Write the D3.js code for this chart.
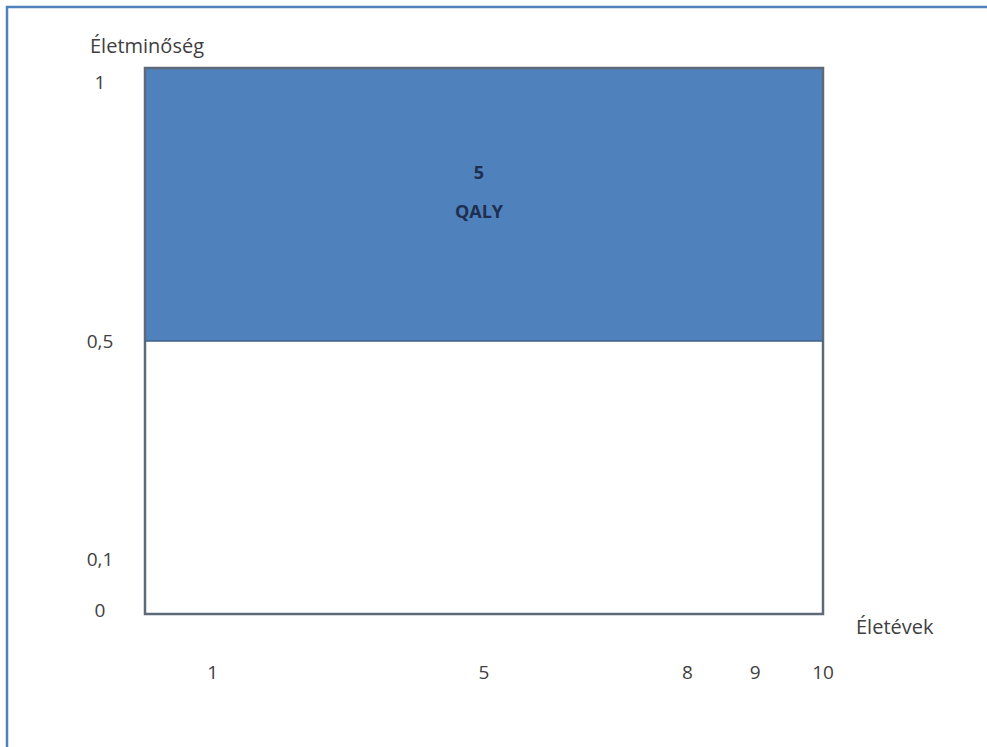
<!DOCTYPE html>
<html><head><meta charset="utf-8">
<script src="https://cdn.jsdelivr.net/npm/d3@7"></script>
<style>html,body{margin:0;padding:0;background:#fff;}svg{display:block;}</style>
</head><body>
<script>
const yTicks = [0, 0.1, 0.5, 1];
const yTickLabels = ["0", "0,1", "0,5", "1"];
const xTicks = [1, 5, 8, 9, 10];
const xTickLabels = ["1", "5", "8", "9", "10"];
const qalyYears = [0, 10];
const qalyQuality = [0.5, 1];
const qalyValue = 5;
const yTitle = "Életminőség";
const xTitle = "Életévek";

const W = 987, H = 747;
const svg = d3.select("body").append("svg").attr("width", W).attr("height", H);

// outer frame (left + top only visible)
svg.append("path").attr("d", `M7,${H} L7,7 L${W},7`).attr("fill", "none")
  .attr("stroke", "#4f81bd").attr("stroke-width", 2.5);

const x = d3.scaleLinear().domain([0, 10]).range([145, 823]);
const y = d3.scaleLinear().domain([0, 1]).range([614, 68]);
const font = "'Open Sans', sans-serif";

// QALY area
svg.append("rect")
  .attr("x", x(qalyYears[0])).attr("y", y(qalyQuality[1]))
  .attr("width", x(qalyYears[1]) - x(qalyYears[0]))
  .attr("height", y(qalyQuality[0]) - y(qalyQuality[1]))
  .attr("fill", "#4f81bd");

// plot frame
svg.append("rect")
  .attr("x", x(0)).attr("y", y(1))
  .attr("width", x(10) - x(0)).attr("height", y(0) - y(1))
  .attr("fill", "none").attr("stroke", "#5d6878").attr("stroke-width", 2.5);
// divider line at 0.5
svg.append("line").attr("x1", x(0)).attr("x2", x(10))
  .attr("y1", y(0.5)).attr("y2", y(0.5))
  .attr("stroke", "#3f5f8a").attr("stroke-width", 1.5);

// y tick labels
svg.append("g").selectAll("text").data(yTicks).join("text")
  .attr("x", 100)
  .attr("y", d => Math.max(y(d), y(1) + 14) + (d === 0 ? 3 : 7))
  .attr("text-anchor", "middle")
  .attr("font-family", font).attr("font-size", 19).attr("fill", "#404040")
  .text((d, i) => yTickLabels[i]);

// x tick labels
svg.append("g").selectAll("text").data(xTicks).join("text")
  .attr("x", d => x(d))
  .attr("y", 679)
  .attr("text-anchor", "middle")
  .attr("font-family", font).attr("font-size", 19).attr("fill", "#404040")
  .text((d, i) => xTickLabels[i]);

// axis titles
svg.append("text").attr("x", 90).attr("y", 53)
  .attr("font-family", font).attr("font-size", 20).attr("fill", "#404040")
  .text(yTitle);
svg.append("text").attr("x", 856).attr("y", 634)
  .attr("font-family", font).attr("font-size", 20).attr("fill", "#404040")
  .text(xTitle);

// QALY label
const cx = x(5);
const lbl = svg.append("text").attr("text-anchor", "middle")
  .attr("font-family", font).attr("font-size", 18).attr("font-weight", "bold")
  .attr("fill", "#1f2f4f");
lbl.append("tspan").attr("x", cx - 5).attr("y", 179).text(qalyValue);
lbl.append("tspan").attr("x", cx - 5).attr("y", 218).text("QALY");
</script>
</body></html>
